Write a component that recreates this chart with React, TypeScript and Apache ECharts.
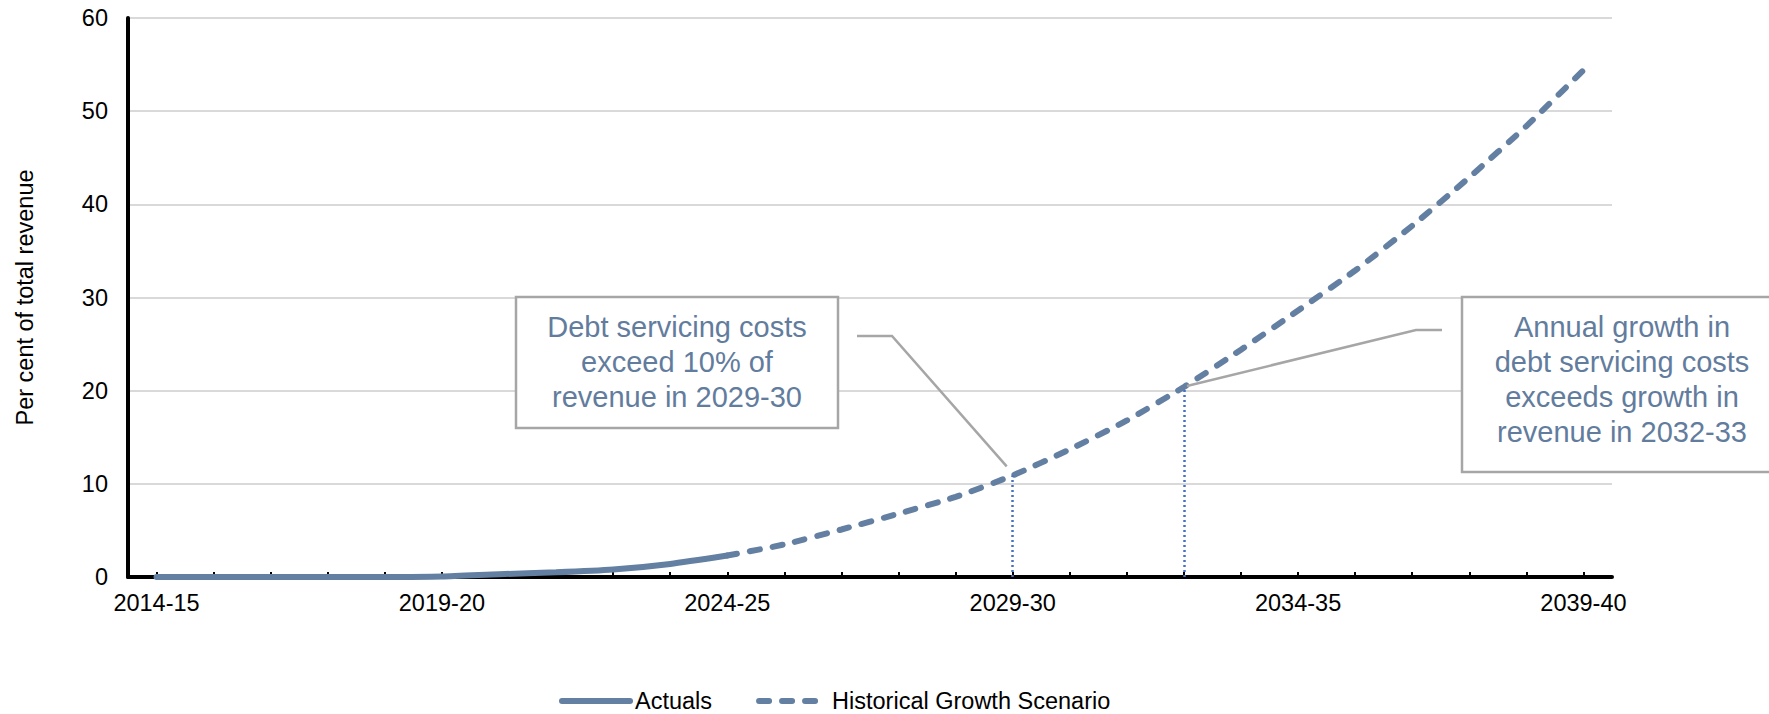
import React, { useEffect, useRef } from "react";
import * as echarts from "echarts";

const categories = [
  "2014-15", "2015-16", "2016-17", "2017-18", "2018-19", "2019-20", "2020-21",
  "2021-22", "2022-23", "2023-24", "2024-25", "2025-26", "2026-27", "2027-28",
  "2028-29", "2029-30", "2030-31", "2031-32", "2032-33", "2033-34", "2034-35",
  "2035-36", "2036-37", "2037-38", "2038-39", "2039-40",
];

// Actuals: 2014-15 .. 2024-25
const actualValues = [0, 0, 0, 0, 0, 0.05, 0.3, 0.5, 0.8, 1.4, 2.3];
// Historical Growth Scenario: 2024-25 .. 2039-40
const projectionStartIndex = 10;
const projectionValues = [2.3, 3.5, 5.1, 6.8, 8.6, 10.9, 13.7, 16.8, 20.4, 24.4, 28.6, 32.9, 37.7, 42.9, 48.4, 54.4];

const yTicks = { min: 0, max: 60, interval: 10 };

const note1Index = 15; // 2029-30
const note2Index = 18; // 2032-33
const note1Text = "Debt servicing costs\nexceed 10% of\nrevenue in 2029-30";
const note2Text = "Annual growth in\ndebt servicing costs\nexceeds growth in\nrevenue in 2032-33";

const FONT = '"Liberation Sans", Arial, Helvetica, sans-serif';
const LINE_COLOR = "#637fa1";
const NOTE_COLOR = "#627c9d";
const BOX_COLOR = "#a6a6a6";

export default function App() {
  const ref = useRef<HTMLDivElement>(null);

  useEffect(() => {
    document.body.style.margin = "0";
    if (!ref.current) return;
    const chart = echarts.init(ref.current, undefined, { renderer: "svg" });

    const actualData = categories.map((_, i) => (i < actualValues.length ? actualValues[i] : null));
    const projData = categories.map((_, i) =>
      i >= projectionStartIndex ? projectionValues[i - projectionStartIndex] : null
    );

    chart.setOption({
      animation: false,
      backgroundColor: "#ffffff",
      textStyle: { fontFamily: FONT },
      grid: { left: 128, right: 157, top: 18, bottom: 137, containLabel: false },
      legend: {
        left: 554,
        top: 684,
        itemWidth: 68,
        itemHeight: 14,
        itemGap: 44,
        itemStyle: { opacity: 0 },
        lineStyle: { width: 6, cap: "round" },
        textStyle: { fontFamily: FONT, fontSize: 23.5, color: "#000" },
        data: ["Actuals", "Historical Growth Scenario"],
      },
      xAxis: {
        type: "category",
        data: categories,
        boundaryGap: true,
        axisLine: { show: true, lineStyle: { color: "#000", width: 4 } },
        axisTick: { show: true, inside: true, alignWithLabel: true, interval: 0, length: 5, lineStyle: { color: "#000", width: 2 } },
        axisLabel: { interval: 4, margin: 14, fontSize: 23.5, color: "#000", fontFamily: FONT },
        splitLine: { show: false },
      },
      yAxis: {
        type: "value",
        min: yTicks.min,
        max: yTicks.max,
        interval: yTicks.interval,
        name: "Per cent of total revenue",
        nameLocation: "middle",
        nameRotate: 90,
        nameGap: 91,
        nameTextStyle: { fontSize: 23.5, color: "#000", fontFamily: FONT },
        axisLine: { show: true, lineStyle: { color: "#000", width: 4 } },
        axisTick: { show: false },
        axisLabel: { margin: 20, fontSize: 23.5, color: "#000", fontFamily: FONT },
        splitLine: { show: true, lineStyle: { color: "#d9d9d9", width: 2 } },
      },
      series: [
        {
          name: "Actuals",
          type: "line",
          data: actualData,
          symbol: "none",
          smooth: 0.2,
          connectNulls: false,
          lineStyle: { color: LINE_COLOR, width: 6, cap: "round" },
          itemStyle: { color: LINE_COLOR },
          z: 3,
        },
        {
          name: "Historical Growth Scenario",
          type: "line",
          data: projData,
          symbol: "none",
          smooth: 0.2,
          lineStyle: { color: LINE_COLOR, width: 6, type: [10, 13], cap: "round" },
          itemStyle: { color: LINE_COLOR },
          z: 3,
          markLine: {
            silent: true,
            symbol: "none",
            label: { show: false },
            lineStyle: { color: "#4472c4", width: 2.5, type: [2, 3] },
            data: [
              [
                { coord: [note1Index, 0] },
                { coord: [note1Index, projectionValues[note1Index - projectionStartIndex]] },
              ],
              [
                { coord: [note2Index, 0] },
                { coord: [note2Index, projectionValues[note2Index - projectionStartIndex]] },
              ],
            ],
          },
        },
      ],
    });

    const p1 = chart.convertToPixel({ gridIndex: 0 }, [note1Index, projectionValues[note1Index - projectionStartIndex]]) as number[];
    const p2 = chart.convertToPixel({ gridIndex: 0 }, [note2Index, projectionValues[note2Index - projectionStartIndex]]) as number[];

    chart.setOption({
      graphic: [
        {
          type: "polyline",
          z: 10,
          shape: { points: [[857, 336], [892, 336], [p1[0] - 6, p1[1] - 9]] },
          style: { stroke: BOX_COLOR, lineWidth: 2.5, fill: null },
        },
        {
          type: "polyline",
          z: 10,
          shape: { points: [[1442, 330], [1416, 330], [p2[0] + 3, p2[1] - 1]] },
          style: { stroke: BOX_COLOR, lineWidth: 2.5, fill: null },
        },
        {
          type: "rect",
          z: 10,
          shape: { x: 516, y: 297, width: 322, height: 131 },
          style: { fill: "#ffffff", stroke: BOX_COLOR, lineWidth: 2.5 },
        },
        {
          type: "text",
          z: 11,
          style: {
            text: note1Text,
            x: 677,
            y: 362,
            align: "center",
            verticalAlign: "middle",
            fontSize: 29,
            fontFamily: FONT,
            lineHeight: 35,
            fill: NOTE_COLOR,
          },
        },
        {
          type: "rect",
          z: 10,
          shape: { x: 1462, y: 297, width: 330, height: 175 },
          style: { fill: "#ffffff", stroke: BOX_COLOR, lineWidth: 2.5 },
        },
        {
          type: "text",
          z: 11,
          style: {
            text: note2Text,
            x: 1622,
            y: 379,
            align: "center",
            verticalAlign: "middle",
            fontSize: 29,
            fontFamily: FONT,
            lineHeight: 35,
            fill: NOTE_COLOR,
          },
        },
      ],
    });

    return () => {
      chart.dispose();
    };
  }, []);

  return <div ref={ref} style={{ width: 1769, height: 714 }} />;
}
